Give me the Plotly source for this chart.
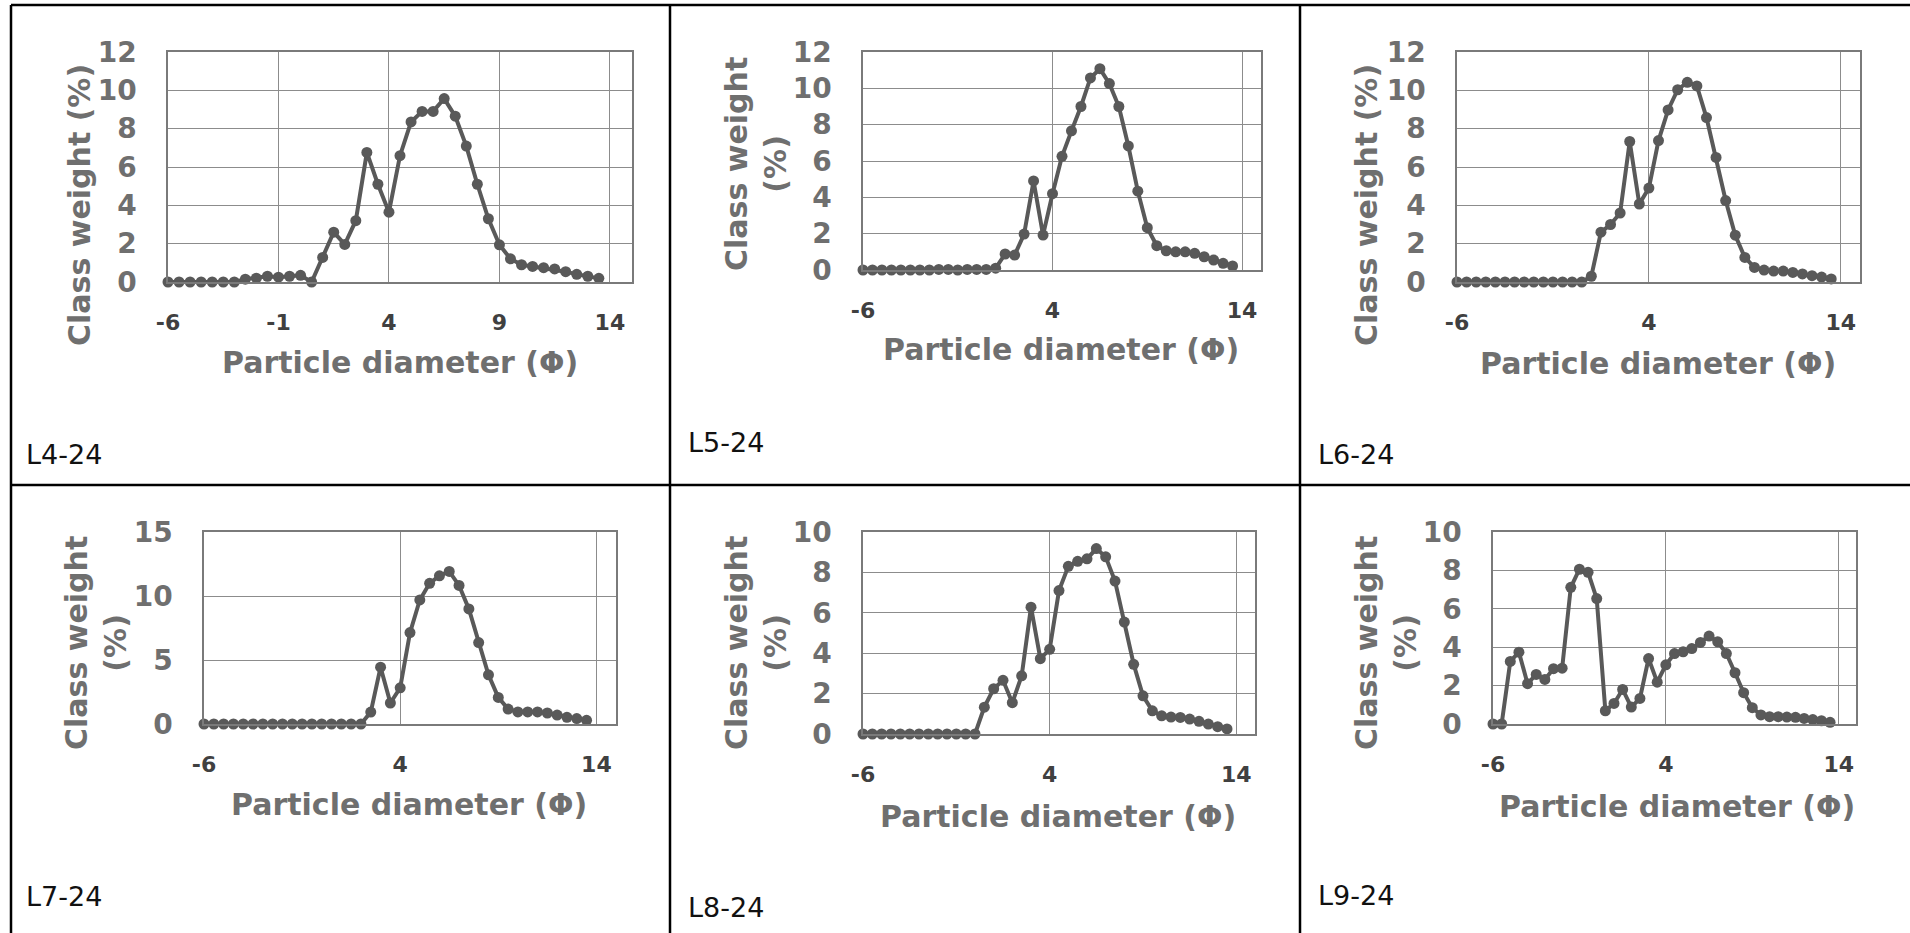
import plotly.graph_objects as go

# ---------------- data ----------------
phi = [-6, -5.5, -5, -4.5, -4, -3.5, -3, -2.5, -2, -1.5, -1, -0.5, 0, 0.5,
       1, 1.5, 2, 2.5, 3, 3.5, 4, 4.5, 5, 5.5, 6, 6.5, 7, 7.5, 8, 8.5, 9,
       9.5, 10, 10.5, 11, 11.5, 12, 12.5, 13, 13.5]

samples = ["L4-24", "L5-24", "L6-24", "L7-24", "L8-24", "L9-24"]

L4_24 = [0, 0, 0, 0, 0, 0, 0, 0.15, 0.2, 0.3, 0.25, 0.3, 0.35, 0.0,
         1.28, 2.6, 1.96, 3.2, 6.76, 5.1, 3.64, 6.59, 8.35, 8.9, 8.9, 9.57,
         8.65, 7.09, 5.1, 3.3, 1.94, 1.21, 0.9, 0.81, 0.75, 0.68, 0.54, 0.4,
         0.3, 0.19]
L5_24 = [0, 0, 0, 0, 0, 0, 0, 0, 0.03, 0.03, 0, 0.03, 0.03, 0.03,
         0.1, 0.88, 0.82, 1.98, 4.9, 1.92, 4.2, 6.26, 7.66, 9.0, 10.57, 11.08,
         10.26, 9.0, 6.83, 4.34, 2.33, 1.34, 1.06, 1.0, 1.0, 0.92, 0.73, 0.55,
         0.37, 0.22]
L6_24 = [0, 0, 0, 0, 0, 0, 0, 0, 0, 0, 0, 0, 0, 0,
         0.3, 2.6, 3.0, 3.6, 7.33, 4.07, 4.9, 7.38, 8.98, 10.03, 10.42, 10.23,
         8.58, 6.5, 4.25, 2.44, 1.28, 0.76, 0.62, 0.57, 0.57, 0.5, 0.42, 0.33,
         0.26, 0.16]
L7_24 = [0, 0, 0, 0, 0, 0, 0, 0, 0, 0, 0, 0, 0, 0, 0, 0, 0,
         0.93, 4.44, 1.64, 2.83, 7.14, 9.69, 10.99, 11.58, 11.92, 10.83, 8.99,
         6.36, 3.84, 2.08, 1.17, 0.94, 0.94, 0.94, 0.86, 0.70, 0.52, 0.42, 0.29]
L8_24 = [0, 0, 0, 0, 0, 0, 0, 0, 0, 0, 0, 0, 0,
         1.33, 2.24, 2.66, 1.55, 2.88, 6.28, 3.73, 4.19, 7.1, 8.3, 8.55, 8.67,
         9.18, 8.77, 7.57, 5.54, 3.45, 1.89, 1.15, 0.9, 0.84, 0.82, 0.74, 0.63,
         0.49, 0.36, 0.25]
L9_24 = [0, 0, 3.26, 3.74, 2.1, 2.58, 2.32, 2.88, 2.91, 7.12, 8.06, 7.9, 6.53,
         0.69, 1.07, 1.8, 0.88, 1.33, 3.41, 2.18, 3.08, 3.67, 3.76, 3.93, 4.25,
         4.58, 4.28, 3.67, 2.67, 1.63, 0.85, 0.47, 0.38, 0.38, 0.36, 0.35, 0.29,
         0.23, 0.17, 0.09]

series = [L4_24, L5_24, L6_24, L7_24, L8_24, L9_24]

x_title = "Particle diameter (Φ)"
y_titles = ["Class weight (%)", "Class weight<br>(%)", "Class weight (%)",
            "Class weight<br>(%)", "Class weight<br>(%)", "Class weight<br>(%)"]
y_max = [12, 12, 12, 15, 10, 10]
y_step = [2, 2, 2, 5, 2, 2]
x_tickvals_fine = [-6, -1, 4, 9, 14]
x_ticktext_fine = ["-6", "-1", "4", "9", "14"]
x_tickvals_coarse = [-6, 4, 14]
x_ticktext_coarse = ["-6", "4", "14"]

# ---------------- layout (pixels) ----------------
W, H = 1910, 933


def fx(p):
    return p / W


def fy(p):
    return 1 - p / H


# plot area boxes: left, right, top, bottom
boxes = [(168, 632, 52, 282), (863, 1261, 52, 270), (1457, 1860, 52, 282),
         (204, 616, 532, 724), (863, 1255, 532, 734), (1493, 1856, 532, 724)]
ytitle_pos = [(79, 205), (756, 164), (1366, 205), (96, 643), (756, 643), (1386, 643)]
xtitle_pos = [(400, 362), (1061, 350), (1658, 363), (409, 804), (1058, 816), (1677, 806)]
label_pos = [(24, 455), (686, 442), (1316, 454), (24, 896), (686, 907), (1316, 895)]

LINE = "#595959"
TXT = "#6f6f6f"
GRID = "#8c8c8c"
BORDER = "#7a7a7a"
FONT = "DejaVu Sans"

fig = go.Figure()
layout = dict(width=W, height=H, margin=dict(l=0, r=0, t=0, b=0, autoexpand=False),
              paper_bgcolor="white", plot_bgcolor="white", showlegend=False)

annotations = []
for i, (name, ys) in enumerate(zip(samples, series)):
    n = "" if i == 0 else str(i + 1)
    fig.add_trace(go.Scatter(
        x=phi, y=ys, mode="lines+markers", name=name,
        xaxis="x" + n, yaxis="y" + n, cliponaxis=False,
        line=dict(color=LINE, width=4),
        marker=dict(color=LINE, size=11)))
    l, r, t, b = boxes[i]
    tv = x_tickvals_fine if i == 0 else x_tickvals_coarse
    tt = x_ticktext_fine if i == 0 else x_ticktext_coarse
    layout["xaxis" + n] = dict(
        domain=[fx(l), fx(r)], anchor="y" + n, range=[-6, 15],
        tickmode="array", tickvals=tv, ticktext=tt,
        showgrid=True, gridcolor=GRID, gridwidth=1,
        zeroline=False, showline=True, mirror=True, linecolor=BORDER, linewidth=1.5,
        ticks="outside", ticklen=20, tickcolor="rgba(0,0,0,0)",
        tickfont=dict(family=FONT, size=22, color="#404040", weight="bold"),
        fixedrange=True)
    layout["yaxis" + n] = dict(
        domain=[fy(b), fy(t)], anchor="x" + n, range=[0, y_max[i]],
        tick0=0, dtick=y_step[i], showgrid=True, gridcolor=GRID, gridwidth=1,
        zeroline=False, showline=True, mirror=True, linecolor=BORDER, linewidth=1.5,
        ticks="outside", ticklen=24, tickcolor="rgba(0,0,0,0)",
        tickfont=dict(family=FONT, size=28, color=TXT, weight="bold"),
        fixedrange=True)
    # axis titles
    yx, yy = ytitle_pos[i]
    annotations.append(dict(
        text=y_titles[i], x=fx(yx), y=fy(yy), xref="paper", yref="paper",
        xanchor="center", yanchor="middle", textangle=-90, showarrow=False,
        font=dict(family=FONT, size=30, color=TXT, weight="bold")))
    xx, xy = xtitle_pos[i]
    annotations.append(dict(
        text=x_title, x=fx(xx), y=fy(xy), xref="paper", yref="paper",
        xanchor="center", yanchor="middle", showarrow=False,
        font=dict(family=FONT, size=30, color=TXT, weight="bold")))
    lx, ly = label_pos[i]
    annotations.append(dict(
        text=name, x=fx(lx), y=fy(ly), xref="paper", yref="paper",
        xanchor="left", yanchor="middle", showarrow=False,
        font=dict(family=FONT, size=27, color="#111111")))

# table frame lines
shapes = []
for (x0, y0, x1, y1) in [(11, 5, W, 5), (11, 485, W, 485), (11, 5, 11, H),
                         (670, 5, 670, H), (1300, 5, 1300, H)]:
    shapes.append(dict(type="line", xref="paper", yref="paper",
                       x0=fx(x0), y0=fy(y0), x1=fx(x1), y1=fy(y1),
                       line=dict(color="black", width=2.5)))

layout["annotations"] = annotations
layout["shapes"] = shapes
fig.update_layout(**layout)

post = ("document.documentElement.style.margin='0';"
        "document.documentElement.style.padding='0';"
        "document.body.style.margin='0';document.body.style.padding='0';"
        "document.body.style.overflow='hidden';"
        "var d=document.getElementById('{plot_id}');"
        "d.style.position='fixed';d.style.left='0px';d.style.top='0px';")

fig.write_html("out.html", config={"displayModeBar": False}, post_script=post)
